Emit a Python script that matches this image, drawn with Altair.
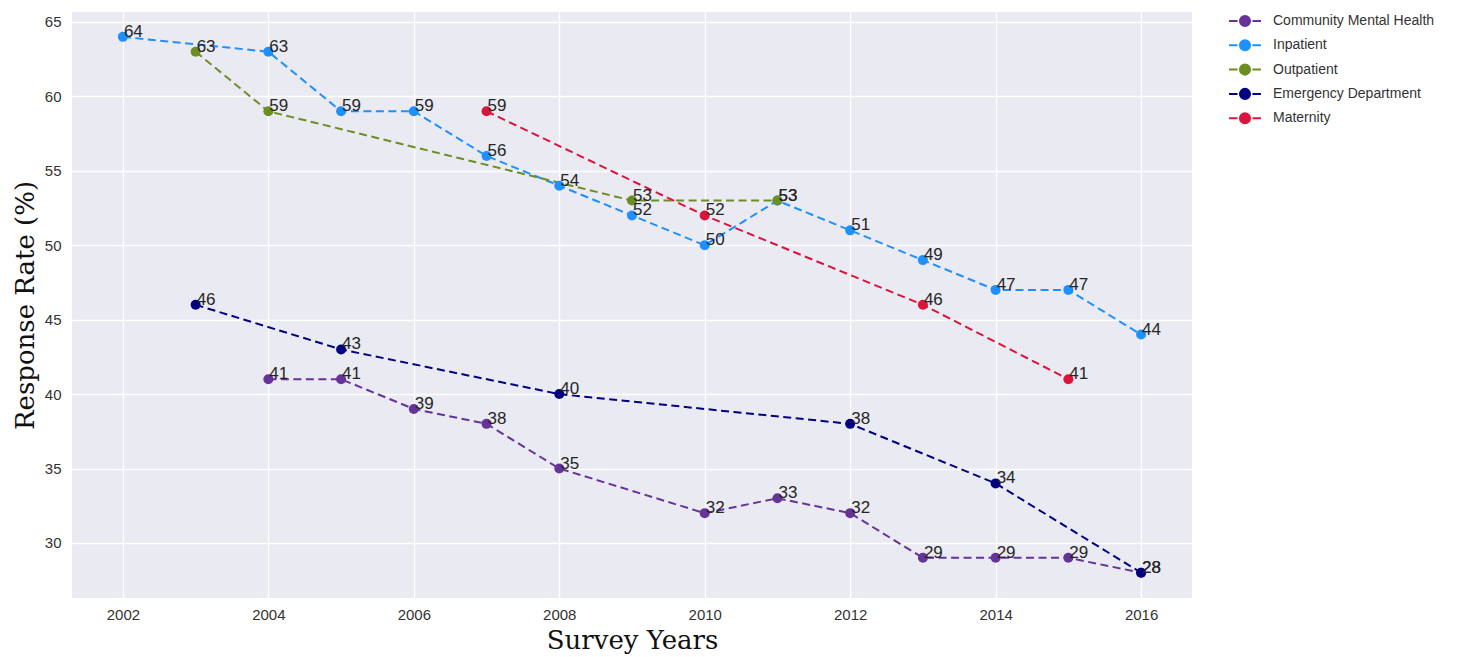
import altair as alt
import pandas as pd

series_names = ["Community Mental Health", "Inpatient", "Outpatient",
                "Emergency Department", "Maternity"]
series_colors = ["#663399", "#1E90FF", "#6B8E23", "#000080", "#DC143C"]

cmh_years = [2004, 2005, 2006, 2007, 2008, 2010, 2011, 2012, 2013, 2014, 2015, 2016]
cmh_values = [41, 41, 39, 38, 35, 32, 33, 32, 29, 29, 29, 28]

inp_years = [2002, 2004, 2005, 2006, 2007, 2008, 2009, 2010, 2011, 2012, 2013, 2014, 2015, 2016]
inp_values = [64, 63, 59, 59, 56, 54, 52, 50, 53, 51, 49, 47, 47, 44]

out_years = [2003, 2004, 2009, 2011]
out_values = [63, 59, 53, 53]

ed_years = [2003, 2005, 2008, 2012, 2014, 2016]
ed_values = [46, 43, 40, 38, 34, 28]

mat_years = [2007, 2010, 2013, 2015]
mat_values = [59, 52, 46, 41]

x_ticks = [2002, 2004, 2006, 2008, 2010, 2012, 2014, 2016]
y_ticks = [30, 35, 40, 45, 50, 55, 60, 65]

rows = []
for name, yrs, vals in zip(series_names,
                           [cmh_years, inp_years, out_years, ed_years, mat_years],
                           [cmh_values, inp_values, out_values, ed_values, mat_values]):
    for i, (yr, v) in enumerate(zip(yrs, vals)):
        rows.append({"Series": name, "Year": yr, "Rate": v, "idx": i})
df = pd.DataFrame(rows)

legend_path = ("M-1.33,0H-0.62M0.62,0H1.33"
               "M-0.42,0A0.42,0.42 0 1,1 0.42,0A0.42,0.42 0 1,1 -0.42,0Z")

legend_def = alt.Legend(
    title=None, orient="none", legendX=1160, legendY=-4,
    symbolType=legend_path, symbolSize=576, symbolStrokeWidth=2,
    labelFont="Liberation Sans", labelFontSize=14, labelColor="#333333",
    labelOffset=15, labelLimit=300, rowPadding=1.3, padding=0,
)

x_enc = alt.X("Year:Q",
              scale=alt.Scale(domain=[2001.3, 2016.7], nice=False, zero=False),
              axis=alt.Axis(values=x_ticks, format="d", title="Survey Years",
                            titleFont="DejaVu Serif", titleFontSize=26,
                            titleFontWeight="normal", titleColor="#111111",
                            titlePadding=5, labelPadding=9))
y_enc = alt.Y("Rate:Q",
              scale=alt.Scale(domain=[26.3, 65.67], nice=False, zero=False),
              axis=alt.Axis(values=y_ticks, title="Response Rate (%)",
                            titleFont="DejaVu Serif", titleFontSize=26,
                            titleFontWeight="normal", titleColor="#111111",
                            titlePadding=6, labelPadding=11))

scale_c = alt.Scale(domain=series_names, range=series_colors)

lines = alt.Chart(df).mark_line(strokeDash=[8, 4.5], strokeWidth=2).encode(
    x=x_enc, y=y_enc,
    stroke=alt.Stroke("Series:N", scale=scale_c, legend=legend_def, sort=series_names),
    detail="Series:N",
    order="idx:Q",
)

points = alt.Chart(df).mark_point(filled=True, size=100, opacity=1).encode(
    x=x_enc, y=y_enc,
    fill=alt.Fill("Series:N", scale=scale_c, legend=legend_def, sort=series_names),
)

labels = alt.Chart(df).mark_text(align="left", baseline="alphabetic", dx=1, dy=0,
                                 font="Liberation Sans", fontSize=17,
                                 color="#262626").encode(
    x=x_enc, y=y_enc, text=alt.Text("Rate:Q", format="d"),
)

chart = alt.layer(lines, points, labels).properties(
    width=1120, height=586,
    background="#FFFFFF",
    autosize=alt.AutoSizeParams(type="none"),
    padding={"left": 64, "top": 4, "right": 262, "bottom": 60},
).configure_view(
    fill="#EAEAF2", stroke=None,
).configure_axis(
    grid=True, gridColor="#FFFFFF", gridWidth=1.3, domain=False, ticks=False,
    labelFont="Liberation Sans", labelFontSize=15, labelColor="#333333",
)

chart.save("out.html", embed_options={"renderer": "svg", "actions": False})
